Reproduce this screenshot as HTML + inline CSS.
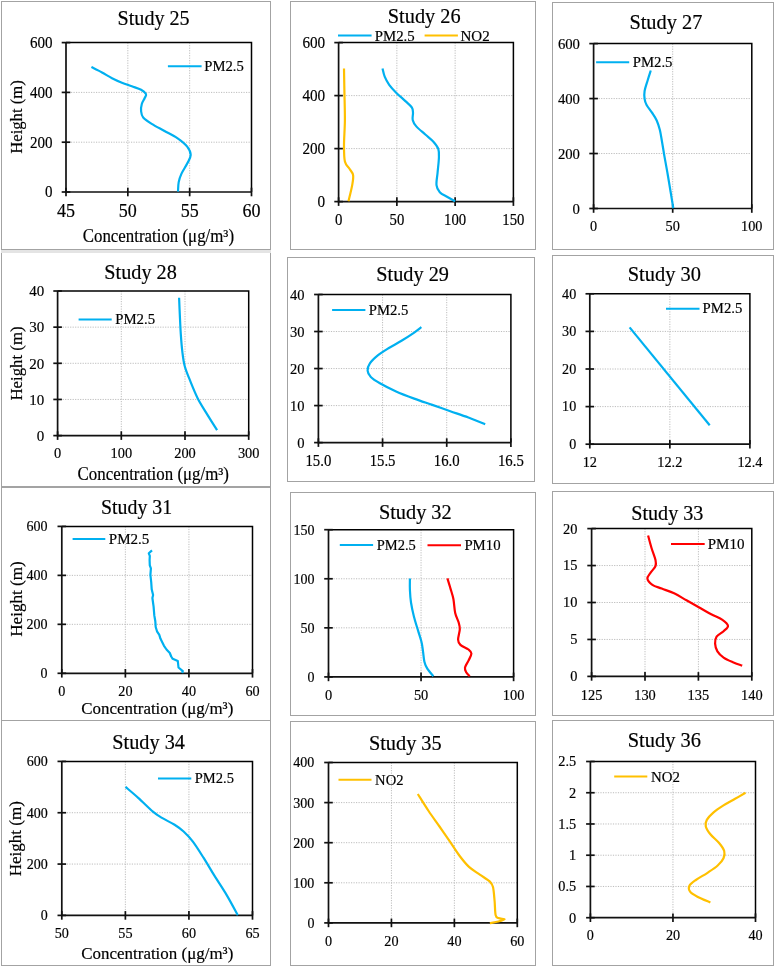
<!DOCTYPE html>
<html><head><meta charset="utf-8"><style>
html,body{margin:0;padding:0;background:#fff;width:775px;height:967px;overflow:hidden}
svg{position:absolute;left:0;top:0;display:block;will-change:transform}
text{font-family:'Liberation Serif', serif;stroke:#000;stroke-width:0.18px}
</style></head><body>
<svg width="775" height="967" viewBox="0 0 775 967">
<rect x="0" y="0" width="775" height="967" fill="#fff"/>
<rect x="1.5" y="1.5" width="269.0" height="248.0" fill="none" stroke="#a3a3a3" stroke-width="1"/>
<text x="153.6" y="24.5" font-size="20.5" text-anchor="middle" textLength="72.1" lengthAdjust="spacingAndGlyphs" fill="#000">Study 25</text>
<line x1="127.83" y1="42.60" x2="127.83" y2="192.00" stroke="#bdbdbd" stroke-width="1" stroke-dasharray="1.2,1.3"/>
<line x1="189.67" y1="42.60" x2="189.67" y2="192.00" stroke="#bdbdbd" stroke-width="1" stroke-dasharray="1.2,1.3"/>
<line x1="66.00" y1="142.20" x2="251.50" y2="142.20" stroke="#bdbdbd" stroke-width="1" stroke-dasharray="1.2,1.3"/>
<line x1="66.00" y1="92.40" x2="251.50" y2="92.40" stroke="#bdbdbd" stroke-width="1" stroke-dasharray="1.2,1.3"/>
<path d="M66.00,42.60 H251.50 V192.00" fill="none" stroke="#000" stroke-width="1.5"/>
<path d="M66.00,42.60 V192.00 H251.50" fill="none" stroke="#111" stroke-width="1.7"/>
<line x1="66.00" y1="187.70" x2="66.00" y2="196.30" stroke="#111" stroke-width="1.7"/>
<line x1="127.83" y1="187.70" x2="127.83" y2="196.30" stroke="#111" stroke-width="1.7"/>
<line x1="189.67" y1="187.70" x2="189.67" y2="196.30" stroke="#111" stroke-width="1.7"/>
<line x1="251.50" y1="187.70" x2="251.50" y2="196.30" stroke="#111" stroke-width="1.7"/>
<line x1="61.70" y1="192.00" x2="70.30" y2="192.00" stroke="#111" stroke-width="1.7"/>
<line x1="61.70" y1="142.20" x2="70.30" y2="142.20" stroke="#111" stroke-width="1.7"/>
<line x1="61.70" y1="92.40" x2="70.30" y2="92.40" stroke="#111" stroke-width="1.7"/>
<line x1="61.70" y1="42.60" x2="70.30" y2="42.60" stroke="#111" stroke-width="1.7"/>
<text x="66.0" y="217.3" font-size="18" text-anchor="middle" fill="#000">45</text>
<text x="127.8" y="217.3" font-size="18" text-anchor="middle" fill="#000">50</text>
<text x="189.7" y="217.3" font-size="18" text-anchor="middle" fill="#000">55</text>
<text x="251.5" y="217.3" font-size="18" text-anchor="middle" fill="#000">60</text>
<text x="52.6" y="197.4" font-size="16" text-anchor="end" textLength="7.5" lengthAdjust="spacingAndGlyphs" fill="#000">0</text>
<text x="52.6" y="147.6" font-size="16" text-anchor="end" textLength="22.6" lengthAdjust="spacingAndGlyphs" fill="#000">200</text>
<text x="52.6" y="97.8" font-size="16" text-anchor="end" textLength="22.6" lengthAdjust="spacingAndGlyphs" fill="#000">400</text>
<text x="52.6" y="48.0" font-size="16" text-anchor="end" textLength="22.6" lengthAdjust="spacingAndGlyphs" fill="#000">600</text>
<text x="158.4" y="241.9" font-size="18" text-anchor="middle" textLength="151.3" lengthAdjust="spacingAndGlyphs" fill="#000">Concentration (μg/m³)</text>
<text x="22.4" y="117.0" font-size="17.3" text-anchor="middle" textLength="73.5" lengthAdjust="spacingAndGlyphs" transform="rotate(-90 22.4 117.0)" fill="#000">Height (m)</text>
<line x1="167.90" y1="66.30" x2="201.60" y2="66.30" stroke="#00b0f0" stroke-width="2"/>
<text x="204.3" y="71.1" font-size="14.5" text-anchor="start" textLength="39.5" lengthAdjust="spacingAndGlyphs" fill="#000">PM2.5</text>
<path d="M91.40,67.10 C93.17,68.00 98.57,70.65 102.00,72.50 C105.43,74.35 108.68,76.50 112.00,78.20 C115.32,79.90 118.60,81.35 121.90,82.70 C125.20,84.05 128.60,85.12 131.80,86.30 C135.00,87.48 138.73,88.50 141.10,89.80 C143.47,91.10 145.42,92.68 146.00,94.10 C146.58,95.52 145.30,96.65 144.60,98.30 C143.90,99.95 142.38,101.87 141.80,104.00 C141.22,106.13 140.87,108.85 141.10,111.10 C141.33,113.35 141.43,115.37 143.20,117.50 C144.97,119.63 148.15,121.65 151.70,123.90 C155.25,126.15 160.23,128.63 164.50,131.00 C168.77,133.37 173.52,135.50 177.30,138.10 C181.08,140.70 184.97,143.77 187.20,146.60 C189.43,149.43 190.70,152.27 190.70,155.10 C190.70,157.93 188.73,160.52 187.20,163.60 C185.67,166.68 182.92,170.52 181.50,173.60 C180.08,176.68 179.28,179.10 178.70,182.10 C178.12,185.10 178.12,190.02 178.00,191.60" fill="none" stroke="#00b0f0" stroke-width="2.2" stroke-linejoin="round" stroke-linecap="butt"/>
<rect x="290.5" y="1.5" width="245.0" height="248.0" fill="none" stroke="#a3a3a3" stroke-width="1"/>
<text x="424.2" y="22.5" font-size="20.3" text-anchor="middle" textLength="72.8" lengthAdjust="spacingAndGlyphs" fill="#000">Study 26</text>
<line x1="396.87" y1="42.60" x2="396.87" y2="201.60" stroke="#bdbdbd" stroke-width="1" stroke-dasharray="1.2,1.3"/>
<line x1="455.13" y1="42.60" x2="455.13" y2="201.60" stroke="#bdbdbd" stroke-width="1" stroke-dasharray="1.2,1.3"/>
<line x1="338.60" y1="148.60" x2="513.40" y2="148.60" stroke="#bdbdbd" stroke-width="1" stroke-dasharray="1.2,1.3"/>
<line x1="338.60" y1="95.60" x2="513.40" y2="95.60" stroke="#bdbdbd" stroke-width="1" stroke-dasharray="1.2,1.3"/>
<path d="M338.60,42.60 H513.40 V201.60" fill="none" stroke="#000" stroke-width="1.5"/>
<path d="M338.60,42.60 V201.60 H513.40" fill="none" stroke="#111" stroke-width="1.7"/>
<line x1="338.60" y1="197.30" x2="338.60" y2="205.90" stroke="#111" stroke-width="1.7"/>
<line x1="396.87" y1="197.30" x2="396.87" y2="205.90" stroke="#111" stroke-width="1.7"/>
<line x1="455.13" y1="197.30" x2="455.13" y2="205.90" stroke="#111" stroke-width="1.7"/>
<line x1="513.40" y1="197.30" x2="513.40" y2="205.90" stroke="#111" stroke-width="1.7"/>
<line x1="334.30" y1="201.60" x2="342.90" y2="201.60" stroke="#111" stroke-width="1.7"/>
<line x1="334.30" y1="148.60" x2="342.90" y2="148.60" stroke="#111" stroke-width="1.7"/>
<line x1="334.30" y1="95.60" x2="342.90" y2="95.60" stroke="#111" stroke-width="1.7"/>
<line x1="334.30" y1="42.60" x2="342.90" y2="42.60" stroke="#111" stroke-width="1.7"/>
<text x="338.6" y="224.6" font-size="16" text-anchor="middle" textLength="7.4" lengthAdjust="spacingAndGlyphs" fill="#000">0</text>
<text x="396.9" y="224.6" font-size="16" text-anchor="middle" textLength="14.7" lengthAdjust="spacingAndGlyphs" fill="#000">50</text>
<text x="455.1" y="224.6" font-size="16" text-anchor="middle" textLength="22.1" lengthAdjust="spacingAndGlyphs" fill="#000">100</text>
<text x="513.4" y="224.6" font-size="16" text-anchor="middle" textLength="22.1" lengthAdjust="spacingAndGlyphs" fill="#000">150</text>
<text x="325.2" y="207.0" font-size="16" text-anchor="end" textLength="7.6" lengthAdjust="spacingAndGlyphs" fill="#000">0</text>
<text x="325.2" y="154.0" font-size="16" text-anchor="end" textLength="22.8" lengthAdjust="spacingAndGlyphs" fill="#000">200</text>
<text x="325.2" y="101.0" font-size="16" text-anchor="end" textLength="22.8" lengthAdjust="spacingAndGlyphs" fill="#000">400</text>
<text x="325.2" y="48.0" font-size="16" text-anchor="end" textLength="22.8" lengthAdjust="spacingAndGlyphs" fill="#000">600</text>
<line x1="338.00" y1="35.50" x2="371.60" y2="35.50" stroke="#00b0f0" stroke-width="2"/>
<text x="374.7" y="40.7" font-size="15" text-anchor="start" textLength="40.0" lengthAdjust="spacingAndGlyphs" fill="#000">PM2.5</text>
<line x1="424.60" y1="35.60" x2="457.90" y2="35.60" stroke="#ffc000" stroke-width="2"/>
<text x="460.5" y="40.7" font-size="15" text-anchor="start" textLength="29.2" lengthAdjust="spacingAndGlyphs" fill="#000">NO2</text>
<path d="M382.50,68.50 C382.87,69.87 383.58,73.98 384.70,76.70 C385.82,79.42 387.25,82.10 389.20,84.80 C391.15,87.50 393.70,90.18 396.40,92.90 C399.10,95.62 402.83,98.68 405.40,101.10 C407.97,103.52 410.53,105.45 411.80,107.40 C413.07,109.35 412.85,110.70 413.00,112.80 C413.15,114.90 412.15,117.73 412.70,120.00 C413.25,122.27 414.20,123.98 416.30,126.40 C418.40,128.82 422.45,131.95 425.30,134.50 C428.15,137.05 431.23,139.30 433.40,141.70 C435.57,144.10 437.38,146.18 438.30,148.90 C439.22,151.62 439.02,154.08 438.90,158.00 C438.78,161.92 438.00,167.88 437.60,172.40 C437.20,176.92 436.13,181.78 436.50,185.10 C436.87,188.42 438.05,190.35 439.80,192.30 C441.55,194.25 444.45,195.32 447.00,196.80 C449.55,198.28 453.75,200.47 455.10,201.20" fill="none" stroke="#00b0f0" stroke-width="2.2" stroke-linejoin="round" stroke-linecap="butt"/>
<path d="M344.00,68.50 C344.07,72.27 344.25,82.52 344.40,91.10 C344.55,99.68 344.97,110.97 344.90,120.00 C344.83,129.03 344.00,138.37 344.00,145.30 C344.00,152.23 343.98,157.68 344.90,161.60 C345.82,165.52 348.13,166.55 349.50,168.80 C350.87,171.05 352.65,172.38 353.10,175.10 C353.55,177.82 352.97,180.75 352.20,185.10 C351.43,189.45 349.12,198.52 348.50,201.20" fill="none" stroke="#ffc000" stroke-width="2.2" stroke-linejoin="round" stroke-linecap="butt"/>
<rect x="552.5" y="2.5" width="221.0" height="247.0" fill="none" stroke="#a3a3a3" stroke-width="1"/>
<text x="665.9" y="29.4" font-size="20.5" text-anchor="middle" textLength="73.0" lengthAdjust="spacingAndGlyphs" fill="#000">Study 27</text>
<line x1="672.70" y1="43.60" x2="672.70" y2="208.50" stroke="#bdbdbd" stroke-width="1" stroke-dasharray="1.2,1.3"/>
<line x1="593.60" y1="153.53" x2="751.80" y2="153.53" stroke="#bdbdbd" stroke-width="1" stroke-dasharray="1.2,1.3"/>
<line x1="593.60" y1="98.57" x2="751.80" y2="98.57" stroke="#bdbdbd" stroke-width="1" stroke-dasharray="1.2,1.3"/>
<path d="M593.60,43.60 H751.80 V208.50" fill="none" stroke="#000" stroke-width="1.5"/>
<path d="M593.60,43.60 V208.50 H751.80" fill="none" stroke="#111" stroke-width="1.7"/>
<line x1="593.60" y1="204.20" x2="593.60" y2="212.80" stroke="#111" stroke-width="1.7"/>
<line x1="672.70" y1="204.20" x2="672.70" y2="212.80" stroke="#111" stroke-width="1.7"/>
<line x1="751.80" y1="204.20" x2="751.80" y2="212.80" stroke="#111" stroke-width="1.7"/>
<line x1="589.30" y1="208.50" x2="597.90" y2="208.50" stroke="#111" stroke-width="1.7"/>
<line x1="589.30" y1="153.53" x2="597.90" y2="153.53" stroke="#111" stroke-width="1.7"/>
<line x1="589.30" y1="98.57" x2="597.90" y2="98.57" stroke="#111" stroke-width="1.7"/>
<line x1="589.30" y1="43.60" x2="597.90" y2="43.60" stroke="#111" stroke-width="1.7"/>
<text x="593.6" y="231.0" font-size="15.5" text-anchor="middle" textLength="7.1" lengthAdjust="spacingAndGlyphs" fill="#000">0</text>
<text x="672.7" y="231.0" font-size="15.5" text-anchor="middle" textLength="14.3" lengthAdjust="spacingAndGlyphs" fill="#000">50</text>
<text x="751.8" y="231.0" font-size="15.5" text-anchor="middle" textLength="21.4" lengthAdjust="spacingAndGlyphs" fill="#000">100</text>
<text x="580.0" y="213.7" font-size="15.5" text-anchor="end" textLength="7.4" lengthAdjust="spacingAndGlyphs" fill="#000">0</text>
<text x="580.0" y="158.7" font-size="15.5" text-anchor="end" textLength="22.1" lengthAdjust="spacingAndGlyphs" fill="#000">200</text>
<text x="580.0" y="103.8" font-size="15.5" text-anchor="end" textLength="22.1" lengthAdjust="spacingAndGlyphs" fill="#000">400</text>
<text x="580.0" y="48.8" font-size="15.5" text-anchor="end" textLength="22.1" lengthAdjust="spacingAndGlyphs" fill="#000">600</text>
<line x1="596.10" y1="62.20" x2="629.20" y2="62.20" stroke="#00b0f0" stroke-width="2"/>
<text x="632.7" y="67.0" font-size="15.2" text-anchor="start" textLength="39.8" lengthAdjust="spacingAndGlyphs" fill="#000">PM2.5</text>
<path d="M650.80,70.50 C650.28,72.12 648.73,76.78 647.70,80.20 C646.67,83.62 645.12,87.90 644.60,91.00 C644.08,94.10 644.27,96.47 644.60,98.80 C644.93,101.13 645.37,102.68 646.60,105.00 C647.83,107.32 650.32,110.12 652.00,112.70 C653.68,115.28 655.40,117.65 656.70,120.50 C658.00,123.35 658.90,126.18 659.80,129.80 C660.70,133.42 661.33,137.82 662.10,142.20 C662.87,146.58 663.50,150.93 664.40,156.10 C665.30,161.27 666.47,167.25 667.50,173.20 C668.53,179.15 669.63,185.95 670.60,191.80 C671.57,197.65 672.85,205.55 673.30,208.30" fill="none" stroke="#00b0f0" stroke-width="2.2" stroke-linejoin="round" stroke-linecap="butt"/>
<rect x="1.5" y="252.5" width="269.0" height="234.0" fill="none" stroke="#a3a3a3" stroke-width="1"/>
<rect x="1" y="250" width="270" height="3" fill="#e4e4e4"/>
<text x="140.6" y="278.6" font-size="20.5" text-anchor="middle" textLength="72.5" lengthAdjust="spacingAndGlyphs" fill="#000">Study 28</text>
<line x1="121.30" y1="291.00" x2="121.30" y2="435.60" stroke="#bdbdbd" stroke-width="1" stroke-dasharray="1.2,1.3"/>
<line x1="185.00" y1="291.00" x2="185.00" y2="435.60" stroke="#bdbdbd" stroke-width="1" stroke-dasharray="1.2,1.3"/>
<line x1="57.60" y1="399.45" x2="248.70" y2="399.45" stroke="#bdbdbd" stroke-width="1" stroke-dasharray="1.2,1.3"/>
<line x1="57.60" y1="363.30" x2="248.70" y2="363.30" stroke="#bdbdbd" stroke-width="1" stroke-dasharray="1.2,1.3"/>
<line x1="57.60" y1="327.15" x2="248.70" y2="327.15" stroke="#bdbdbd" stroke-width="1" stroke-dasharray="1.2,1.3"/>
<path d="M57.60,291.00 H248.70 V435.60" fill="none" stroke="#000" stroke-width="1.5"/>
<path d="M57.60,291.00 V435.60 H248.70" fill="none" stroke="#111" stroke-width="1.7"/>
<line x1="57.60" y1="431.30" x2="57.60" y2="439.90" stroke="#111" stroke-width="1.7"/>
<line x1="121.30" y1="431.30" x2="121.30" y2="439.90" stroke="#111" stroke-width="1.7"/>
<line x1="185.00" y1="431.30" x2="185.00" y2="439.90" stroke="#111" stroke-width="1.7"/>
<line x1="248.70" y1="431.30" x2="248.70" y2="439.90" stroke="#111" stroke-width="1.7"/>
<line x1="53.30" y1="435.60" x2="61.90" y2="435.60" stroke="#111" stroke-width="1.7"/>
<line x1="53.30" y1="399.45" x2="61.90" y2="399.45" stroke="#111" stroke-width="1.7"/>
<line x1="53.30" y1="363.30" x2="61.90" y2="363.30" stroke="#111" stroke-width="1.7"/>
<line x1="53.30" y1="327.15" x2="61.90" y2="327.15" stroke="#111" stroke-width="1.7"/>
<line x1="53.30" y1="291.00" x2="61.90" y2="291.00" stroke="#111" stroke-width="1.7"/>
<text x="57.6" y="458.3" font-size="15.5" text-anchor="middle" textLength="7.2" lengthAdjust="spacingAndGlyphs" fill="#000">0</text>
<text x="121.3" y="458.3" font-size="15.5" text-anchor="middle" textLength="21.6" lengthAdjust="spacingAndGlyphs" fill="#000">100</text>
<text x="185.0" y="458.3" font-size="15.5" text-anchor="middle" textLength="21.6" lengthAdjust="spacingAndGlyphs" fill="#000">200</text>
<text x="248.7" y="458.3" font-size="15.5" text-anchor="middle" textLength="21.6" lengthAdjust="spacingAndGlyphs" fill="#000">300</text>
<text x="44.2" y="440.8" font-size="15.5" text-anchor="end" textLength="7.5" lengthAdjust="spacingAndGlyphs" fill="#000">0</text>
<text x="44.2" y="404.7" font-size="15.5" text-anchor="end" textLength="15.0" lengthAdjust="spacingAndGlyphs" fill="#000">10</text>
<text x="44.2" y="368.5" font-size="15.5" text-anchor="end" textLength="15.0" lengthAdjust="spacingAndGlyphs" fill="#000">20</text>
<text x="44.2" y="332.3" font-size="15.5" text-anchor="end" textLength="15.0" lengthAdjust="spacingAndGlyphs" fill="#000">30</text>
<text x="44.2" y="296.2" font-size="15.5" text-anchor="end" textLength="15.0" lengthAdjust="spacingAndGlyphs" fill="#000">40</text>
<text x="153.3" y="480.4" font-size="18" text-anchor="middle" textLength="151.4" lengthAdjust="spacingAndGlyphs" fill="#000">Concentration (μg/m³)</text>
<text x="22.4" y="363.5" font-size="17.3" text-anchor="middle" textLength="74.0" lengthAdjust="spacingAndGlyphs" transform="rotate(-90 22.4 363.5)" fill="#000">Height (m)</text>
<line x1="78.60" y1="319.40" x2="111.70" y2="319.40" stroke="#00b0f0" stroke-width="2"/>
<text x="115.2" y="324.3" font-size="15" text-anchor="start" textLength="39.9" lengthAdjust="spacingAndGlyphs" fill="#000">PM2.5</text>
<path d="M179.10,297.80 C179.22,300.58 179.52,308.45 179.80,314.50 C180.08,320.55 180.38,327.97 180.80,334.10 C181.22,340.23 181.65,345.98 182.30,351.30 C182.95,356.62 183.40,361.10 184.70,366.00 C186.00,370.90 187.97,375.38 190.10,380.70 C192.23,386.02 194.83,392.58 197.50,397.90 C200.17,403.22 202.83,407.22 206.10,412.60 C209.37,417.98 215.27,427.27 217.10,430.20" fill="none" stroke="#00b0f0" stroke-width="2.2" stroke-linejoin="round" stroke-linecap="butt"/>
<rect x="287.5" y="257.5" width="247.0" height="224.0" fill="none" stroke="#a3a3a3" stroke-width="1"/>
<text x="412.6" y="281.3" font-size="20" text-anchor="middle" textLength="72.6" lengthAdjust="spacingAndGlyphs" fill="#000">Study 29</text>
<line x1="382.57" y1="294.50" x2="382.57" y2="442.60" stroke="#bdbdbd" stroke-width="1" stroke-dasharray="1.2,1.3"/>
<line x1="446.73" y1="294.50" x2="446.73" y2="442.60" stroke="#bdbdbd" stroke-width="1" stroke-dasharray="1.2,1.3"/>
<line x1="318.40" y1="405.58" x2="510.90" y2="405.58" stroke="#bdbdbd" stroke-width="1" stroke-dasharray="1.2,1.3"/>
<line x1="318.40" y1="368.55" x2="510.90" y2="368.55" stroke="#bdbdbd" stroke-width="1" stroke-dasharray="1.2,1.3"/>
<line x1="318.40" y1="331.52" x2="510.90" y2="331.52" stroke="#bdbdbd" stroke-width="1" stroke-dasharray="1.2,1.3"/>
<path d="M318.40,294.50 H510.90 V442.60" fill="none" stroke="#000" stroke-width="1.5"/>
<path d="M318.40,294.50 V442.60 H510.90" fill="none" stroke="#111" stroke-width="1.7"/>
<line x1="318.40" y1="438.30" x2="318.40" y2="446.90" stroke="#111" stroke-width="1.7"/>
<line x1="382.57" y1="438.30" x2="382.57" y2="446.90" stroke="#111" stroke-width="1.7"/>
<line x1="446.73" y1="438.30" x2="446.73" y2="446.90" stroke="#111" stroke-width="1.7"/>
<line x1="510.90" y1="438.30" x2="510.90" y2="446.90" stroke="#111" stroke-width="1.7"/>
<line x1="314.10" y1="442.60" x2="322.70" y2="442.60" stroke="#111" stroke-width="1.7"/>
<line x1="314.10" y1="405.58" x2="322.70" y2="405.58" stroke="#111" stroke-width="1.7"/>
<line x1="314.10" y1="368.55" x2="322.70" y2="368.55" stroke="#111" stroke-width="1.7"/>
<line x1="314.10" y1="331.52" x2="322.70" y2="331.52" stroke="#111" stroke-width="1.7"/>
<line x1="314.10" y1="294.50" x2="322.70" y2="294.50" stroke="#111" stroke-width="1.7"/>
<text x="318.4" y="465.5" font-size="16" text-anchor="middle" textLength="25.8" lengthAdjust="spacingAndGlyphs" fill="#000">15.0</text>
<text x="382.6" y="465.5" font-size="16" text-anchor="middle" textLength="25.8" lengthAdjust="spacingAndGlyphs" fill="#000">15.5</text>
<text x="446.7" y="465.5" font-size="16" text-anchor="middle" textLength="25.8" lengthAdjust="spacingAndGlyphs" fill="#000">16.0</text>
<text x="510.9" y="465.5" font-size="16" text-anchor="middle" textLength="25.8" lengthAdjust="spacingAndGlyphs" fill="#000">16.5</text>
<text x="304.6" y="447.6" font-size="15" text-anchor="end" textLength="7.3" lengthAdjust="spacingAndGlyphs" fill="#000">0</text>
<text x="304.6" y="410.6" font-size="15" text-anchor="end" textLength="14.5" lengthAdjust="spacingAndGlyphs" fill="#000">10</text>
<text x="304.6" y="373.6" font-size="15" text-anchor="end" textLength="14.5" lengthAdjust="spacingAndGlyphs" fill="#000">20</text>
<text x="304.6" y="336.5" font-size="15" text-anchor="end" textLength="14.5" lengthAdjust="spacingAndGlyphs" fill="#000">30</text>
<text x="304.6" y="299.5" font-size="15" text-anchor="end" textLength="14.5" lengthAdjust="spacingAndGlyphs" fill="#000">40</text>
<line x1="332.10" y1="309.90" x2="365.40" y2="309.90" stroke="#00b0f0" stroke-width="2"/>
<text x="368.8" y="314.6" font-size="14.8" text-anchor="start" textLength="39.6" lengthAdjust="spacingAndGlyphs" fill="#000">PM2.5</text>
<path d="M421.40,327.20 C420.20,328.10 417.52,330.33 414.20,332.60 C410.88,334.87 405.72,338.23 401.50,340.80 C397.28,343.37 392.80,345.60 388.90,348.00 C385.00,350.40 381.27,352.63 378.10,355.20 C374.93,357.77 371.65,360.83 369.90,363.40 C368.15,365.97 367.45,368.35 367.60,370.60 C367.75,372.85 368.75,374.80 370.80,376.90 C372.85,379.00 375.68,380.78 379.90,383.20 C384.12,385.62 390.38,388.83 396.10,391.40 C401.82,393.97 408.17,396.35 414.20,398.60 C420.23,400.85 426.28,402.80 432.30,404.90 C438.32,407.00 444.28,409.10 450.30,411.20 C456.32,413.30 462.58,415.33 468.40,417.50 C474.22,419.67 482.40,423.08 485.20,424.20" fill="none" stroke="#00b0f0" stroke-width="2.2" stroke-linejoin="round" stroke-linecap="butt"/>
<rect x="552.5" y="255.5" width="221.0" height="228.0" fill="none" stroke="#a3a3a3" stroke-width="1"/>
<text x="664.3" y="280.6" font-size="20.3" text-anchor="middle" textLength="73.2" lengthAdjust="spacingAndGlyphs" fill="#000">Study 30</text>
<line x1="669.85" y1="293.80" x2="669.85" y2="444.20" stroke="#bdbdbd" stroke-width="1" stroke-dasharray="1.2,1.3"/>
<line x1="589.80" y1="406.60" x2="749.90" y2="406.60" stroke="#bdbdbd" stroke-width="1" stroke-dasharray="1.2,1.3"/>
<line x1="589.80" y1="369.00" x2="749.90" y2="369.00" stroke="#bdbdbd" stroke-width="1" stroke-dasharray="1.2,1.3"/>
<line x1="589.80" y1="331.40" x2="749.90" y2="331.40" stroke="#bdbdbd" stroke-width="1" stroke-dasharray="1.2,1.3"/>
<path d="M589.80,293.80 H749.90 V444.20" fill="none" stroke="#000" stroke-width="1.5"/>
<path d="M589.80,293.80 V444.20 H749.90" fill="none" stroke="#111" stroke-width="1.7"/>
<line x1="589.80" y1="439.90" x2="589.80" y2="448.50" stroke="#111" stroke-width="1.7"/>
<line x1="669.85" y1="439.90" x2="669.85" y2="448.50" stroke="#111" stroke-width="1.7"/>
<line x1="749.90" y1="439.90" x2="749.90" y2="448.50" stroke="#111" stroke-width="1.7"/>
<line x1="585.50" y1="444.20" x2="594.10" y2="444.20" stroke="#111" stroke-width="1.7"/>
<line x1="585.50" y1="406.60" x2="594.10" y2="406.60" stroke="#111" stroke-width="1.7"/>
<line x1="585.50" y1="369.00" x2="594.10" y2="369.00" stroke="#111" stroke-width="1.7"/>
<line x1="585.50" y1="331.40" x2="594.10" y2="331.40" stroke="#111" stroke-width="1.7"/>
<line x1="585.50" y1="293.80" x2="594.10" y2="293.80" stroke="#111" stroke-width="1.7"/>
<text x="589.8" y="467.0" font-size="15.5" text-anchor="middle" textLength="14.3" lengthAdjust="spacingAndGlyphs" fill="#000">12</text>
<text x="669.8" y="467.0" font-size="15.5" text-anchor="middle" textLength="25.0" lengthAdjust="spacingAndGlyphs" fill="#000">12.2</text>
<text x="749.9" y="467.0" font-size="15.5" text-anchor="middle" textLength="25.0" lengthAdjust="spacingAndGlyphs" fill="#000">12.4</text>
<text x="576.2" y="449.0" font-size="14.5" text-anchor="end" textLength="7.0" lengthAdjust="spacingAndGlyphs" fill="#000">0</text>
<text x="576.2" y="411.4" font-size="14.5" text-anchor="end" textLength="14.1" lengthAdjust="spacingAndGlyphs" fill="#000">10</text>
<text x="576.2" y="373.8" font-size="14.5" text-anchor="end" textLength="14.1" lengthAdjust="spacingAndGlyphs" fill="#000">20</text>
<text x="576.2" y="336.2" font-size="14.5" text-anchor="end" textLength="14.1" lengthAdjust="spacingAndGlyphs" fill="#000">30</text>
<text x="576.2" y="298.6" font-size="14.5" text-anchor="end" textLength="14.1" lengthAdjust="spacingAndGlyphs" fill="#000">40</text>
<line x1="666.00" y1="308.70" x2="699.50" y2="308.70" stroke="#00b0f0" stroke-width="2"/>
<text x="702.6" y="313.4" font-size="14.8" text-anchor="start" textLength="39.7" lengthAdjust="spacingAndGlyphs" fill="#000">PM2.5</text>
<path d="M629.60,327.40 L709.70,425.20" fill="none" stroke="#00b0f0" stroke-width="2.2" stroke-linejoin="round" stroke-linecap="butt"/>
<rect x="1.5" y="487.5" width="269.0" height="233.0" fill="none" stroke="#a3a3a3" stroke-width="1"/>
<text x="136.6" y="514.4" font-size="20" text-anchor="middle" textLength="71.1" lengthAdjust="spacingAndGlyphs" fill="#000">Study 31</text>
<line x1="125.37" y1="526.40" x2="125.37" y2="673.30" stroke="#bdbdbd" stroke-width="1" stroke-dasharray="1.2,1.3"/>
<line x1="188.93" y1="526.40" x2="188.93" y2="673.30" stroke="#bdbdbd" stroke-width="1" stroke-dasharray="1.2,1.3"/>
<line x1="61.80" y1="624.33" x2="252.50" y2="624.33" stroke="#bdbdbd" stroke-width="1" stroke-dasharray="1.2,1.3"/>
<line x1="61.80" y1="575.37" x2="252.50" y2="575.37" stroke="#bdbdbd" stroke-width="1" stroke-dasharray="1.2,1.3"/>
<path d="M61.80,526.40 H252.50 V673.30" fill="none" stroke="#000" stroke-width="1.5"/>
<path d="M61.80,526.40 V673.30 H252.50" fill="none" stroke="#111" stroke-width="1.7"/>
<line x1="61.80" y1="669.00" x2="61.80" y2="677.60" stroke="#111" stroke-width="1.7"/>
<line x1="125.37" y1="669.00" x2="125.37" y2="677.60" stroke="#111" stroke-width="1.7"/>
<line x1="188.93" y1="669.00" x2="188.93" y2="677.60" stroke="#111" stroke-width="1.7"/>
<line x1="252.50" y1="669.00" x2="252.50" y2="677.60" stroke="#111" stroke-width="1.7"/>
<line x1="57.50" y1="673.30" x2="66.10" y2="673.30" stroke="#111" stroke-width="1.7"/>
<line x1="57.50" y1="624.33" x2="66.10" y2="624.33" stroke="#111" stroke-width="1.7"/>
<line x1="57.50" y1="575.37" x2="66.10" y2="575.37" stroke="#111" stroke-width="1.7"/>
<line x1="57.50" y1="526.40" x2="66.10" y2="526.40" stroke="#111" stroke-width="1.7"/>
<text x="61.8" y="695.8" font-size="15" text-anchor="middle" textLength="7.1" lengthAdjust="spacingAndGlyphs" fill="#000">0</text>
<text x="125.4" y="695.8" font-size="15" text-anchor="middle" textLength="14.2" lengthAdjust="spacingAndGlyphs" fill="#000">20</text>
<text x="188.9" y="695.8" font-size="15" text-anchor="middle" textLength="14.2" lengthAdjust="spacingAndGlyphs" fill="#000">40</text>
<text x="252.5" y="695.8" font-size="15" text-anchor="middle" textLength="14.2" lengthAdjust="spacingAndGlyphs" fill="#000">60</text>
<text x="47.6" y="678.2" font-size="14.8" text-anchor="end" textLength="7.0" lengthAdjust="spacingAndGlyphs" fill="#000">0</text>
<text x="47.6" y="629.2" font-size="14.8" text-anchor="end" textLength="21.1" lengthAdjust="spacingAndGlyphs" fill="#000">200</text>
<text x="47.6" y="580.3" font-size="14.8" text-anchor="end" textLength="21.1" lengthAdjust="spacingAndGlyphs" fill="#000">400</text>
<text x="47.6" y="531.3" font-size="14.8" text-anchor="end" textLength="21.1" lengthAdjust="spacingAndGlyphs" fill="#000">600</text>
<text x="157.3" y="714.3" font-size="17.5" text-anchor="middle" textLength="152.0" lengthAdjust="spacingAndGlyphs" fill="#000">Concentration (μg/m³)</text>
<text x="21.5" y="599.0" font-size="17.3" text-anchor="middle" textLength="75.6" lengthAdjust="spacingAndGlyphs" transform="rotate(-90 21.5 599.0)" fill="#000">Height (m)</text>
<line x1="72.60" y1="538.90" x2="105.30" y2="538.90" stroke="#00b0f0" stroke-width="2"/>
<text x="108.8" y="543.7" font-size="15" text-anchor="start" textLength="40.6" lengthAdjust="spacingAndGlyphs" fill="#000">PM2.5</text>
<path d="M152.00,550.40 L148.80,553.30 L149.80,555.90 L149.60,560.00 L149.80,565.40 L150.90,568.30 L150.40,574.80 L151.20,582.00 L151.70,589.30 L153.10,595.10 L152.40,598.00 L153.60,606.70 L154.30,615.40 L155.30,621.20 L155.70,627.00 L157.00,631.30 L159.30,634.90 L160.40,638.60 L164.00,645.80 L166.50,649.50 L169.80,653.00 L171.20,656.50 L172.70,658.80 L177.80,661.00 L178.50,667.50 L182.80,671.20 L182.10,673.00" fill="none" stroke="#00b0f0" stroke-width="2.2" stroke-linejoin="round" stroke-linecap="butt"/>
<rect x="290.5" y="492.5" width="245.0" height="223.0" fill="none" stroke="#a3a3a3" stroke-width="1"/>
<text x="415.3" y="518.8" font-size="20" text-anchor="middle" textLength="72.8" lengthAdjust="spacingAndGlyphs" fill="#000">Study 32</text>
<line x1="421.05" y1="529.70" x2="421.05" y2="676.90" stroke="#bdbdbd" stroke-width="1" stroke-dasharray="1.2,1.3"/>
<line x1="328.50" y1="627.83" x2="513.60" y2="627.83" stroke="#bdbdbd" stroke-width="1" stroke-dasharray="1.2,1.3"/>
<line x1="328.50" y1="578.77" x2="513.60" y2="578.77" stroke="#bdbdbd" stroke-width="1" stroke-dasharray="1.2,1.3"/>
<path d="M328.50,529.70 H513.60 V676.90" fill="none" stroke="#000" stroke-width="1.5"/>
<path d="M328.50,529.70 V676.90 H513.60" fill="none" stroke="#111" stroke-width="1.7"/>
<line x1="328.50" y1="672.60" x2="328.50" y2="681.20" stroke="#111" stroke-width="1.7"/>
<line x1="421.05" y1="672.60" x2="421.05" y2="681.20" stroke="#111" stroke-width="1.7"/>
<line x1="513.60" y1="672.60" x2="513.60" y2="681.20" stroke="#111" stroke-width="1.7"/>
<line x1="324.20" y1="676.90" x2="332.80" y2="676.90" stroke="#111" stroke-width="1.7"/>
<line x1="324.20" y1="627.83" x2="332.80" y2="627.83" stroke="#111" stroke-width="1.7"/>
<line x1="324.20" y1="578.77" x2="332.80" y2="578.77" stroke="#111" stroke-width="1.7"/>
<line x1="324.20" y1="529.70" x2="332.80" y2="529.70" stroke="#111" stroke-width="1.7"/>
<text x="328.5" y="699.9" font-size="15.2" text-anchor="middle" textLength="7.2" lengthAdjust="spacingAndGlyphs" fill="#000">0</text>
<text x="421.1" y="699.9" font-size="15.2" text-anchor="middle" textLength="14.4" lengthAdjust="spacingAndGlyphs" fill="#000">50</text>
<text x="513.6" y="699.9" font-size="15.2" text-anchor="middle" textLength="21.7" lengthAdjust="spacingAndGlyphs" fill="#000">100</text>
<text x="314.6" y="681.8" font-size="14.8" text-anchor="end" textLength="7.0" lengthAdjust="spacingAndGlyphs" fill="#000">0</text>
<text x="314.6" y="632.7" font-size="14.8" text-anchor="end" textLength="14.1" lengthAdjust="spacingAndGlyphs" fill="#000">50</text>
<text x="314.6" y="583.7" font-size="14.8" text-anchor="end" textLength="21.1" lengthAdjust="spacingAndGlyphs" fill="#000">100</text>
<text x="314.6" y="534.6" font-size="14.8" text-anchor="end" textLength="21.1" lengthAdjust="spacingAndGlyphs" fill="#000">150</text>
<line x1="339.80" y1="545.00" x2="373.10" y2="545.00" stroke="#00b0f0" stroke-width="2"/>
<text x="376.7" y="549.9" font-size="15" text-anchor="start" textLength="39.1" lengthAdjust="spacingAndGlyphs" fill="#000">PM2.5</text>
<line x1="427.50" y1="545.30" x2="461.00" y2="545.30" stroke="#ff0000" stroke-width="2"/>
<text x="464.4" y="549.8" font-size="15" text-anchor="start" textLength="36.2" lengthAdjust="spacingAndGlyphs" fill="#000">PM10</text>
<path d="M409.90,578.40 C409.90,580.28 409.72,585.68 409.90,589.70 C410.08,593.72 410.33,598.03 411.00,602.50 C411.67,606.97 412.73,611.85 413.90,616.50 C415.07,621.15 416.73,626.15 418.00,630.40 C419.27,634.65 420.67,638.52 421.50,642.00 C422.33,645.48 422.52,648.02 423.00,651.30 C423.48,654.58 423.68,658.80 424.40,661.70 C425.12,664.60 425.80,666.27 427.30,668.70 C428.80,671.13 432.38,675.03 433.40,676.30" fill="none" stroke="#00b0f0" stroke-width="2.2" stroke-linejoin="round" stroke-linecap="butt"/>
<path d="M447.40,578.40 C447.92,580.10 449.50,585.17 450.50,588.60 C451.50,592.03 452.62,594.93 453.40,599.00 C454.18,603.07 454.33,609.12 455.20,613.00 C456.07,616.88 457.83,619.60 458.60,622.30 C459.37,625.00 459.88,626.30 459.80,629.20 C459.72,632.10 458.00,637.08 458.10,639.70 C458.20,642.32 458.67,643.27 460.40,644.90 C462.13,646.53 466.67,648.05 468.50,649.50 C470.33,650.95 471.40,651.75 471.40,653.60 C471.40,655.45 469.57,658.28 468.50,660.60 C467.43,662.92 465.38,665.57 465.00,667.50 C464.62,669.43 465.42,670.73 466.20,672.20 C466.98,673.67 469.12,675.62 469.70,676.30" fill="none" stroke="#ff0000" stroke-width="2.2" stroke-linejoin="round" stroke-linecap="butt"/>
<rect x="552.5" y="491.5" width="221.0" height="224.0" fill="none" stroke="#a3a3a3" stroke-width="1"/>
<text x="667.3" y="519.8" font-size="20" text-anchor="middle" textLength="72.2" lengthAdjust="spacingAndGlyphs" fill="#000">Study 33</text>
<line x1="645.00" y1="528.60" x2="645.00" y2="676.40" stroke="#bdbdbd" stroke-width="1" stroke-dasharray="1.2,1.3"/>
<line x1="698.40" y1="528.60" x2="698.40" y2="676.40" stroke="#bdbdbd" stroke-width="1" stroke-dasharray="1.2,1.3"/>
<line x1="591.60" y1="639.45" x2="751.80" y2="639.45" stroke="#bdbdbd" stroke-width="1" stroke-dasharray="1.2,1.3"/>
<line x1="591.60" y1="602.50" x2="751.80" y2="602.50" stroke="#bdbdbd" stroke-width="1" stroke-dasharray="1.2,1.3"/>
<line x1="591.60" y1="565.55" x2="751.80" y2="565.55" stroke="#bdbdbd" stroke-width="1" stroke-dasharray="1.2,1.3"/>
<path d="M591.60,528.60 H751.80 V676.40" fill="none" stroke="#000" stroke-width="1.5"/>
<path d="M591.60,528.60 V676.40 H751.80" fill="none" stroke="#111" stroke-width="1.7"/>
<line x1="591.60" y1="672.10" x2="591.60" y2="680.70" stroke="#111" stroke-width="1.7"/>
<line x1="645.00" y1="672.10" x2="645.00" y2="680.70" stroke="#111" stroke-width="1.7"/>
<line x1="698.40" y1="672.10" x2="698.40" y2="680.70" stroke="#111" stroke-width="1.7"/>
<line x1="751.80" y1="672.10" x2="751.80" y2="680.70" stroke="#111" stroke-width="1.7"/>
<line x1="587.30" y1="676.40" x2="595.90" y2="676.40" stroke="#111" stroke-width="1.7"/>
<line x1="587.30" y1="639.45" x2="595.90" y2="639.45" stroke="#111" stroke-width="1.7"/>
<line x1="587.30" y1="602.50" x2="595.90" y2="602.50" stroke="#111" stroke-width="1.7"/>
<line x1="587.30" y1="565.55" x2="595.90" y2="565.55" stroke="#111" stroke-width="1.7"/>
<line x1="587.30" y1="528.60" x2="595.90" y2="528.60" stroke="#111" stroke-width="1.7"/>
<text x="591.6" y="699.5" font-size="15.5" text-anchor="middle" textLength="21.6" lengthAdjust="spacingAndGlyphs" fill="#000">125</text>
<text x="645.0" y="699.5" font-size="15.5" text-anchor="middle" textLength="21.6" lengthAdjust="spacingAndGlyphs" fill="#000">130</text>
<text x="698.4" y="699.5" font-size="15.5" text-anchor="middle" textLength="21.6" lengthAdjust="spacingAndGlyphs" fill="#000">135</text>
<text x="751.8" y="699.5" font-size="15.5" text-anchor="middle" textLength="21.6" lengthAdjust="spacingAndGlyphs" fill="#000">140</text>
<text x="577.4" y="681.3" font-size="14.8" text-anchor="end" textLength="7.2" lengthAdjust="spacingAndGlyphs" fill="#000">0</text>
<text x="577.4" y="644.4" font-size="14.8" text-anchor="end" textLength="7.2" lengthAdjust="spacingAndGlyphs" fill="#000">5</text>
<text x="577.4" y="607.4" font-size="14.8" text-anchor="end" textLength="14.4" lengthAdjust="spacingAndGlyphs" fill="#000">10</text>
<text x="577.4" y="570.4" font-size="14.8" text-anchor="end" textLength="14.4" lengthAdjust="spacingAndGlyphs" fill="#000">15</text>
<text x="577.4" y="533.5" font-size="14.8" text-anchor="end" textLength="14.4" lengthAdjust="spacingAndGlyphs" fill="#000">20</text>
<line x1="671.00" y1="544.00" x2="704.70" y2="544.00" stroke="#ff0000" stroke-width="2"/>
<text x="707.7" y="549.0" font-size="15" text-anchor="start" textLength="36.8" lengthAdjust="spacingAndGlyphs" fill="#000">PM10</text>
<path d="M648.10,535.50 C648.68,537.62 650.37,544.12 651.60,548.20 C652.83,552.28 654.85,557.00 655.50,560.00 C656.15,563.00 656.28,564.13 655.50,566.20 C654.72,568.27 652.15,570.33 650.80,572.40 C649.45,574.47 647.13,576.53 647.40,578.60 C647.67,580.67 650.02,583.13 652.40,584.80 C654.78,586.47 658.08,587.18 661.70,588.60 C665.32,590.02 669.97,591.35 674.10,593.30 C678.23,595.25 682.38,597.98 686.50,600.30 C690.62,602.62 694.68,604.88 698.80,607.20 C702.92,609.52 707.32,612.13 711.20,614.20 C715.08,616.27 719.30,617.67 722.10,619.60 C724.90,621.53 727.75,623.87 728.00,625.80 C728.25,627.73 725.50,629.40 723.60,631.20 C721.70,633.00 718.02,634.53 716.60,636.60 C715.18,638.67 714.97,641.13 715.10,643.60 C715.23,646.07 715.98,649.07 717.40,651.40 C718.82,653.73 721.02,655.80 723.60,657.60 C726.18,659.40 729.80,660.87 732.90,662.20 C736.00,663.53 740.65,665.03 742.20,665.60" fill="none" stroke="#ff0000" stroke-width="2.2" stroke-linejoin="round" stroke-linecap="butt"/>
<rect x="1.5" y="720.5" width="269.0" height="245.0" fill="none" stroke="#a3a3a3" stroke-width="1"/>
<text x="148.6" y="748.9" font-size="20" text-anchor="middle" textLength="72.6" lengthAdjust="spacingAndGlyphs" fill="#000">Study 34</text>
<line x1="125.37" y1="761.40" x2="125.37" y2="915.40" stroke="#bdbdbd" stroke-width="1" stroke-dasharray="1.2,1.3"/>
<line x1="188.93" y1="761.40" x2="188.93" y2="915.40" stroke="#bdbdbd" stroke-width="1" stroke-dasharray="1.2,1.3"/>
<line x1="61.80" y1="864.07" x2="252.50" y2="864.07" stroke="#bdbdbd" stroke-width="1" stroke-dasharray="1.2,1.3"/>
<line x1="61.80" y1="812.73" x2="252.50" y2="812.73" stroke="#bdbdbd" stroke-width="1" stroke-dasharray="1.2,1.3"/>
<path d="M61.80,761.40 H252.50 V915.40" fill="none" stroke="#000" stroke-width="1.5"/>
<path d="M61.80,761.40 V915.40 H252.50" fill="none" stroke="#111" stroke-width="1.7"/>
<line x1="61.80" y1="911.10" x2="61.80" y2="919.70" stroke="#111" stroke-width="1.7"/>
<line x1="125.37" y1="911.10" x2="125.37" y2="919.70" stroke="#111" stroke-width="1.7"/>
<line x1="188.93" y1="911.10" x2="188.93" y2="919.70" stroke="#111" stroke-width="1.7"/>
<line x1="252.50" y1="911.10" x2="252.50" y2="919.70" stroke="#111" stroke-width="1.7"/>
<line x1="57.50" y1="915.40" x2="66.10" y2="915.40" stroke="#111" stroke-width="1.7"/>
<line x1="57.50" y1="864.07" x2="66.10" y2="864.07" stroke="#111" stroke-width="1.7"/>
<line x1="57.50" y1="812.73" x2="66.10" y2="812.73" stroke="#111" stroke-width="1.7"/>
<line x1="57.50" y1="761.40" x2="66.10" y2="761.40" stroke="#111" stroke-width="1.7"/>
<text x="61.8" y="937.8" font-size="15" text-anchor="middle" textLength="14.2" lengthAdjust="spacingAndGlyphs" fill="#000">50</text>
<text x="125.4" y="937.8" font-size="15" text-anchor="middle" textLength="14.2" lengthAdjust="spacingAndGlyphs" fill="#000">55</text>
<text x="188.9" y="937.8" font-size="15" text-anchor="middle" textLength="14.2" lengthAdjust="spacingAndGlyphs" fill="#000">60</text>
<text x="252.5" y="937.8" font-size="15" text-anchor="middle" textLength="14.2" lengthAdjust="spacingAndGlyphs" fill="#000">65</text>
<text x="47.8" y="920.3" font-size="14.8" text-anchor="end" textLength="7.0" lengthAdjust="spacingAndGlyphs" fill="#000">0</text>
<text x="47.8" y="869.0" font-size="14.8" text-anchor="end" textLength="21.1" lengthAdjust="spacingAndGlyphs" fill="#000">200</text>
<text x="47.8" y="817.6" font-size="14.8" text-anchor="end" textLength="21.1" lengthAdjust="spacingAndGlyphs" fill="#000">400</text>
<text x="47.8" y="766.3" font-size="14.8" text-anchor="end" textLength="21.1" lengthAdjust="spacingAndGlyphs" fill="#000">600</text>
<text x="157.3" y="959.0" font-size="17.5" text-anchor="middle" textLength="152.0" lengthAdjust="spacingAndGlyphs" fill="#000">Concentration (μg/m³)</text>
<text x="21.5" y="838.7" font-size="17.3" text-anchor="middle" textLength="75.0" lengthAdjust="spacingAndGlyphs" transform="rotate(-90 21.5 838.7)" fill="#000">Height (m)</text>
<line x1="158.00" y1="778.60" x2="191.30" y2="778.60" stroke="#00b0f0" stroke-width="2"/>
<text x="194.8" y="783.3" font-size="15" text-anchor="start" textLength="39.1" lengthAdjust="spacingAndGlyphs" fill="#000">PM2.5</text>
<path d="M125.50,786.90 C127.67,788.77 133.93,793.98 138.50,798.10 C143.07,802.22 148.98,808.30 152.90,811.60 C156.82,814.90 158.38,815.70 162.00,817.90 C165.62,820.10 171.00,822.53 174.60,824.80 C178.20,827.07 180.58,828.73 183.60,831.50 C186.62,834.27 189.38,837.03 192.70,841.40 C196.02,845.77 199.88,851.98 203.50,857.70 C207.12,863.42 210.48,869.38 214.40,875.70 C218.32,882.02 223.10,889.02 227.00,895.60 C230.90,902.18 236.00,911.93 237.80,915.20" fill="none" stroke="#00b0f0" stroke-width="2.2" stroke-linejoin="round" stroke-linecap="butt"/>
<rect x="290.5" y="721.5" width="245.0" height="244.0" fill="none" stroke="#a3a3a3" stroke-width="1"/>
<text x="405.3" y="750.2" font-size="20" text-anchor="middle" textLength="72.8" lengthAdjust="spacingAndGlyphs" fill="#000">Study 35</text>
<line x1="391.43" y1="762.50" x2="391.43" y2="922.90" stroke="#bdbdbd" stroke-width="1" stroke-dasharray="1.2,1.3"/>
<line x1="454.37" y1="762.50" x2="454.37" y2="922.90" stroke="#bdbdbd" stroke-width="1" stroke-dasharray="1.2,1.3"/>
<line x1="328.50" y1="882.80" x2="517.30" y2="882.80" stroke="#bdbdbd" stroke-width="1" stroke-dasharray="1.2,1.3"/>
<line x1="328.50" y1="842.70" x2="517.30" y2="842.70" stroke="#bdbdbd" stroke-width="1" stroke-dasharray="1.2,1.3"/>
<line x1="328.50" y1="802.60" x2="517.30" y2="802.60" stroke="#bdbdbd" stroke-width="1" stroke-dasharray="1.2,1.3"/>
<path d="M328.50,762.50 H517.30 V922.90" fill="none" stroke="#000" stroke-width="1.5"/>
<path d="M328.50,762.50 V922.90 H517.30" fill="none" stroke="#111" stroke-width="1.7"/>
<line x1="328.50" y1="918.60" x2="328.50" y2="927.20" stroke="#111" stroke-width="1.7"/>
<line x1="391.43" y1="918.60" x2="391.43" y2="927.20" stroke="#111" stroke-width="1.7"/>
<line x1="454.37" y1="918.60" x2="454.37" y2="927.20" stroke="#111" stroke-width="1.7"/>
<line x1="517.30" y1="918.60" x2="517.30" y2="927.20" stroke="#111" stroke-width="1.7"/>
<line x1="324.20" y1="922.90" x2="332.80" y2="922.90" stroke="#111" stroke-width="1.7"/>
<line x1="324.20" y1="882.80" x2="332.80" y2="882.80" stroke="#111" stroke-width="1.7"/>
<line x1="324.20" y1="842.70" x2="332.80" y2="842.70" stroke="#111" stroke-width="1.7"/>
<line x1="324.20" y1="802.60" x2="332.80" y2="802.60" stroke="#111" stroke-width="1.7"/>
<line x1="324.20" y1="762.50" x2="332.80" y2="762.50" stroke="#111" stroke-width="1.7"/>
<text x="328.5" y="945.8" font-size="15" text-anchor="middle" textLength="7.1" lengthAdjust="spacingAndGlyphs" fill="#000">0</text>
<text x="391.4" y="945.8" font-size="15" text-anchor="middle" textLength="14.2" lengthAdjust="spacingAndGlyphs" fill="#000">20</text>
<text x="454.4" y="945.8" font-size="15" text-anchor="middle" textLength="14.2" lengthAdjust="spacingAndGlyphs" fill="#000">40</text>
<text x="517.3" y="945.8" font-size="15" text-anchor="middle" textLength="14.2" lengthAdjust="spacingAndGlyphs" fill="#000">60</text>
<text x="314.4" y="927.8" font-size="14.8" text-anchor="end" textLength="7.0" lengthAdjust="spacingAndGlyphs" fill="#000">0</text>
<text x="314.4" y="887.7" font-size="14.8" text-anchor="end" textLength="21.1" lengthAdjust="spacingAndGlyphs" fill="#000">100</text>
<text x="314.4" y="847.6" font-size="14.8" text-anchor="end" textLength="21.1" lengthAdjust="spacingAndGlyphs" fill="#000">200</text>
<text x="314.4" y="807.5" font-size="14.8" text-anchor="end" textLength="21.1" lengthAdjust="spacingAndGlyphs" fill="#000">300</text>
<text x="314.4" y="767.4" font-size="14.8" text-anchor="end" textLength="21.1" lengthAdjust="spacingAndGlyphs" fill="#000">400</text>
<line x1="338.50" y1="779.70" x2="371.50" y2="779.70" stroke="#ffc000" stroke-width="2"/>
<text x="375.1" y="784.7" font-size="15" text-anchor="start" textLength="28.4" lengthAdjust="spacingAndGlyphs" fill="#000">NO2</text>
<path d="M417.80,794.00 C419.60,796.83 424.98,805.58 428.60,811.00 C432.22,816.42 435.88,821.32 439.50,826.50 C443.12,831.68 446.93,837.18 450.30,842.10 C453.67,847.02 456.58,851.87 459.70,856.00 C462.82,860.13 465.65,863.80 469.00,866.90 C472.35,870.00 476.32,872.15 479.80,874.60 C483.28,877.05 487.70,879.52 489.90,881.60 C492.10,883.68 492.22,883.87 493.00,887.10 C493.78,890.33 494.17,896.35 494.60,901.00 C495.03,905.65 494.97,912.15 495.60,915.00 C496.23,917.85 496.90,917.38 498.40,918.10 C499.90,918.82 504.60,918.73 504.60,919.30 C504.60,919.87 500.85,920.87 498.40,921.50 C495.95,922.13 491.32,922.83 489.90,923.10" fill="none" stroke="#ffc000" stroke-width="2.2" stroke-linejoin="round" stroke-linecap="butt"/>
<rect x="552.5" y="720.5" width="221.0" height="245.0" fill="none" stroke="#a3a3a3" stroke-width="1"/>
<text x="664.3" y="747.1" font-size="20.3" text-anchor="middle" textLength="73.2" lengthAdjust="spacingAndGlyphs" fill="#000">Study 36</text>
<line x1="672.95" y1="761.50" x2="672.95" y2="917.70" stroke="#bdbdbd" stroke-width="1" stroke-dasharray="1.2,1.3"/>
<line x1="590.40" y1="886.46" x2="755.50" y2="886.46" stroke="#bdbdbd" stroke-width="1" stroke-dasharray="1.2,1.3"/>
<line x1="590.40" y1="855.22" x2="755.50" y2="855.22" stroke="#bdbdbd" stroke-width="1" stroke-dasharray="1.2,1.3"/>
<line x1="590.40" y1="823.98" x2="755.50" y2="823.98" stroke="#bdbdbd" stroke-width="1" stroke-dasharray="1.2,1.3"/>
<line x1="590.40" y1="792.74" x2="755.50" y2="792.74" stroke="#bdbdbd" stroke-width="1" stroke-dasharray="1.2,1.3"/>
<path d="M590.40,761.50 H755.50 V917.70" fill="none" stroke="#000" stroke-width="1.5"/>
<path d="M590.40,761.50 V917.70 H755.50" fill="none" stroke="#111" stroke-width="1.7"/>
<line x1="590.40" y1="913.40" x2="590.40" y2="922.00" stroke="#111" stroke-width="1.7"/>
<line x1="672.95" y1="913.40" x2="672.95" y2="922.00" stroke="#111" stroke-width="1.7"/>
<line x1="755.50" y1="913.40" x2="755.50" y2="922.00" stroke="#111" stroke-width="1.7"/>
<line x1="586.10" y1="917.70" x2="594.70" y2="917.70" stroke="#111" stroke-width="1.7"/>
<line x1="586.10" y1="886.46" x2="594.70" y2="886.46" stroke="#111" stroke-width="1.7"/>
<line x1="586.10" y1="855.22" x2="594.70" y2="855.22" stroke="#111" stroke-width="1.7"/>
<line x1="586.10" y1="823.98" x2="594.70" y2="823.98" stroke="#111" stroke-width="1.7"/>
<line x1="586.10" y1="792.74" x2="594.70" y2="792.74" stroke="#111" stroke-width="1.7"/>
<line x1="586.10" y1="761.50" x2="594.70" y2="761.50" stroke="#111" stroke-width="1.7"/>
<text x="590.4" y="940.2" font-size="15" text-anchor="middle" textLength="7.1" lengthAdjust="spacingAndGlyphs" fill="#000">0</text>
<text x="673.0" y="940.2" font-size="15" text-anchor="middle" textLength="14.2" lengthAdjust="spacingAndGlyphs" fill="#000">20</text>
<text x="755.5" y="940.2" font-size="15" text-anchor="middle" textLength="14.2" lengthAdjust="spacingAndGlyphs" fill="#000">40</text>
<text x="576.2" y="922.6" font-size="14.8" text-anchor="end" textLength="7.2" lengthAdjust="spacingAndGlyphs" fill="#000">0</text>
<text x="576.2" y="891.4" font-size="14.8" text-anchor="end" textLength="17.9" lengthAdjust="spacingAndGlyphs" fill="#000">0.5</text>
<text x="576.2" y="860.1" font-size="14.8" text-anchor="end" textLength="7.2" lengthAdjust="spacingAndGlyphs" fill="#000">1</text>
<text x="576.2" y="828.9" font-size="14.8" text-anchor="end" textLength="17.9" lengthAdjust="spacingAndGlyphs" fill="#000">1.5</text>
<text x="576.2" y="797.6" font-size="14.8" text-anchor="end" textLength="7.2" lengthAdjust="spacingAndGlyphs" fill="#000">2</text>
<text x="576.2" y="766.4" font-size="14.8" text-anchor="end" textLength="17.9" lengthAdjust="spacingAndGlyphs" fill="#000">2.5</text>
<line x1="614.20" y1="776.60" x2="647.30" y2="776.60" stroke="#ffc000" stroke-width="2"/>
<text x="651.0" y="781.7" font-size="15" text-anchor="start" textLength="28.9" lengthAdjust="spacingAndGlyphs" fill="#000">NO2</text>
<path d="M745.50,792.80 C743.77,793.80 738.77,796.70 735.10,798.80 C731.43,800.90 727.13,803.10 723.50,805.40 C719.87,807.70 716.08,810.18 713.30,812.60 C710.52,815.02 708.05,817.60 706.80,819.90 C705.55,822.20 705.20,824.00 705.80,826.40 C706.40,828.80 708.18,831.53 710.40,834.30 C712.62,837.07 716.80,840.22 719.10,843.00 C721.40,845.78 723.47,848.45 724.20,851.00 C724.93,853.55 724.58,855.88 723.50,858.30 C722.42,860.72 720.37,863.08 717.70,865.50 C715.03,867.92 711.13,870.38 707.50,872.80 C703.87,875.22 698.92,877.83 695.90,880.00 C692.88,882.17 690.37,883.87 689.40,885.80 C688.43,887.73 688.77,889.78 690.10,891.60 C691.43,893.42 694.02,894.88 697.40,896.70 C700.78,898.52 708.23,901.53 710.40,902.50" fill="none" stroke="#ffc000" stroke-width="2.2" stroke-linejoin="round" stroke-linecap="butt"/>
</svg>
</body></html>
